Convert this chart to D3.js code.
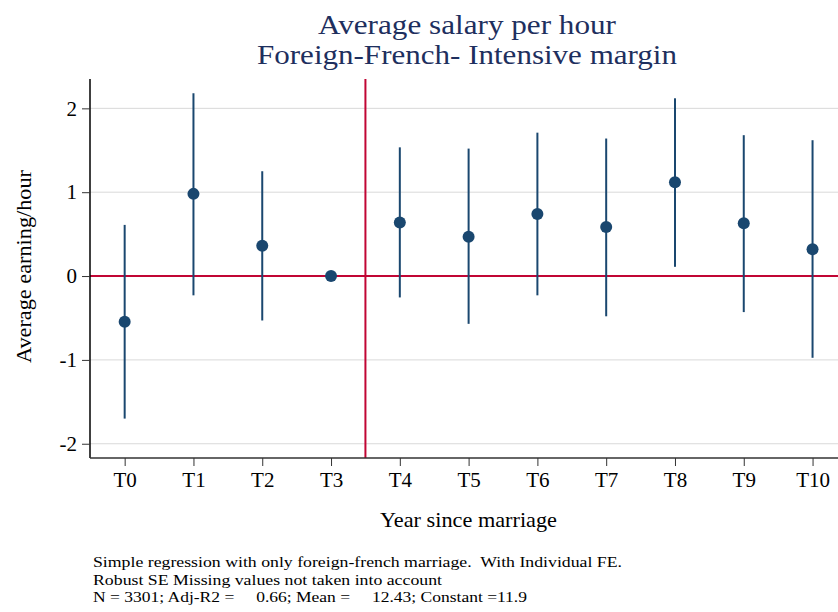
<!DOCTYPE html>
<html>
<head>
<meta charset="utf-8">
<script src="https://cdn.jsdelivr.net/npm/d3@7"></script>
<style>
  html, body { margin: 0; padding: 0; background: #fff; }
  svg { display: block; font-family: "Liberation Serif", "Times New Roman", serif; }
</style>
</head>
<body>
<svg id="chart" width="838" height="612"></svg>
<script>
// Event-study coefficients with 95% confidence intervals
const periods = ["T0", "T1", "T2", "T3", "T4", "T5", "T6", "T7", "T8", "T9", "T10"];
const estimates = [-0.545, 0.98, 0.36, 0, 0.64, 0.47, 0.74, 0.585, 1.12, 0.63, 0.32];
const ciLow  = [-1.70, -0.23, -0.53, null, -0.255, -0.57, -0.23, -0.48, 0.11, -0.43, -0.975];
const ciHigh = [0.61, 2.18, 1.25, null, 1.535, 1.52, 1.71, 1.64, 2.12, 1.68, 1.62];
const yTicks = [-2, -1, 0, 1, 2];
const titleLines = ["Average salary per hour", "Foreign-French- Intensive margin"];
const noteLines = [
  "Simple regression with only foreign-french marriage.  With Individual FE.",
  "Robust SE Missing values not taken into account",
  "N = 3301; Adj-R2 =     0.66; Mean =     12.43; Constant =11.9"
];
const eventLine = 3.5;

const svg = d3.select("#chart");
const m = { left: 90, right: 838, top: 79, bottom: 458 };

const x = d3.scaleLinear().domain([-0.504, 10.37]).range([m.left, m.right]);
const y = d3.scaleLinear().domain([-2.17, 2.35]).range([m.bottom, m.top]);

const navy = "#1a476f", red = "#c10534";

// gridlines
svg.append("g").selectAll("line").data(yTicks).join("line")
  .attr("x1", m.left).attr("x2", m.right)
  .attr("y1", d => y(d)).attr("y2", d => y(d))
  .attr("stroke", "#d9d9d9").attr("stroke-width", 1);

// reference lines
svg.append("line")
  .attr("x1", m.left).attr("x2", m.right).attr("y1", y(0)).attr("y2", y(0))
  .attr("stroke", red).attr("stroke-width", 2);
svg.append("line")
  .attr("x1", x(eventLine)).attr("x2", x(eventLine)).attr("y1", m.top).attr("y2", m.bottom)
  .attr("stroke", red).attr("stroke-width", 2);

// axes
const yAxis = d3.axisLeft(y).tickValues(yTicks).tickSize(8).tickPadding(5).tickFormat(d3.format("d"));
const gy = svg.append("g").attr("transform", `translate(${m.left},0)`).call(yAxis);
gy.select(".domain").attr("d", `M0,${m.top}V${m.bottom}`).attr("stroke", "#000").attr("stroke-width", 1.5);
gy.selectAll(".tick line").attr("stroke", "#333");
gy.selectAll(".tick text").attr("font-size", 21).attr("fill", "#000")
  .attr("font-family", "Liberation Serif, serif")
  .text(d => d < 0 ? "-" + Math.abs(d) : d);

const xAxis = d3.axisBottom(x).tickValues(d3.range(periods.length)).tickSize(8).tickPadding(6)
  .tickFormat(i => periods[i]);
const gx = svg.append("g").attr("transform", `translate(0,${m.bottom})`).call(xAxis);
gx.select(".domain").attr("d", `M${m.left},0H${m.right}`).attr("stroke", "#333").attr("stroke-width", 1.5);
gx.selectAll(".tick line").attr("stroke", "#333");
gx.selectAll(".tick text").attr("font-size", 21).attr("fill", "#000")
  .attr("font-family", "Liberation Serif, serif");

// confidence intervals
const idx = d3.range(periods.length).filter(i => ciLow[i] !== null);
svg.append("g").selectAll("line").data(idx).join("line")
  .attr("x1", i => x(i)).attr("x2", i => x(i))
  .attr("y1", i => y(ciLow[i])).attr("y2", i => y(ciHigh[i]))
  .attr("stroke", navy).attr("stroke-width", 2);

// point estimates
svg.append("g").selectAll("circle").data(estimates).join("circle")
  .attr("cx", (d, i) => x(i)).attr("cy", d => y(d)).attr("r", 6)
  .attr("fill", navy);

// titles
const titleWidths = [298, 420];
svg.append("g").selectAll("text").data(titleLines).join("text")
  .attr("x", (m.left + m.right) / 2 + 3).attr("y", (d, i) => 34 + i * 30)
  .attr("text-anchor", "middle").attr("font-size", 28).attr("fill", "#1e2f5e")
  .attr("textLength", (d, i) => titleWidths[i]).attr("lengthAdjust", "spacingAndGlyphs")
  .text(d => d);

svg.append("text")
  .attr("transform", `translate(31,${(m.top + m.bottom) / 2 - 2}) rotate(-90)`)
  .attr("text-anchor", "middle").attr("font-size", 21).attr("fill", "#000")
  .attr("textLength", 193).attr("lengthAdjust", "spacingAndGlyphs")
  .text("Average earning/hour");

svg.append("text")
  .attr("x", 468.5).attr("y", 527)
  .attr("text-anchor", "middle").attr("font-size", 21).attr("fill", "#000")
  .attr("textLength", 177).attr("lengthAdjust", "spacingAndGlyphs")
  .text("Year since marriage");

// notes
const noteWidths = [529, 349, 434];
svg.append("g").selectAll("text").data(noteLines).join("text")
  .attr("x", 93).attr("y", (d, i) => 567 + i * 17.5)
  .attr("font-size", 15).attr("fill", "#000")
  .attr("textLength", (d, i) => noteWidths[i]).attr("lengthAdjust", "spacingAndGlyphs")
  .style("white-space", "pre")
  .text(d => d);
</script>
</body>
</html>
